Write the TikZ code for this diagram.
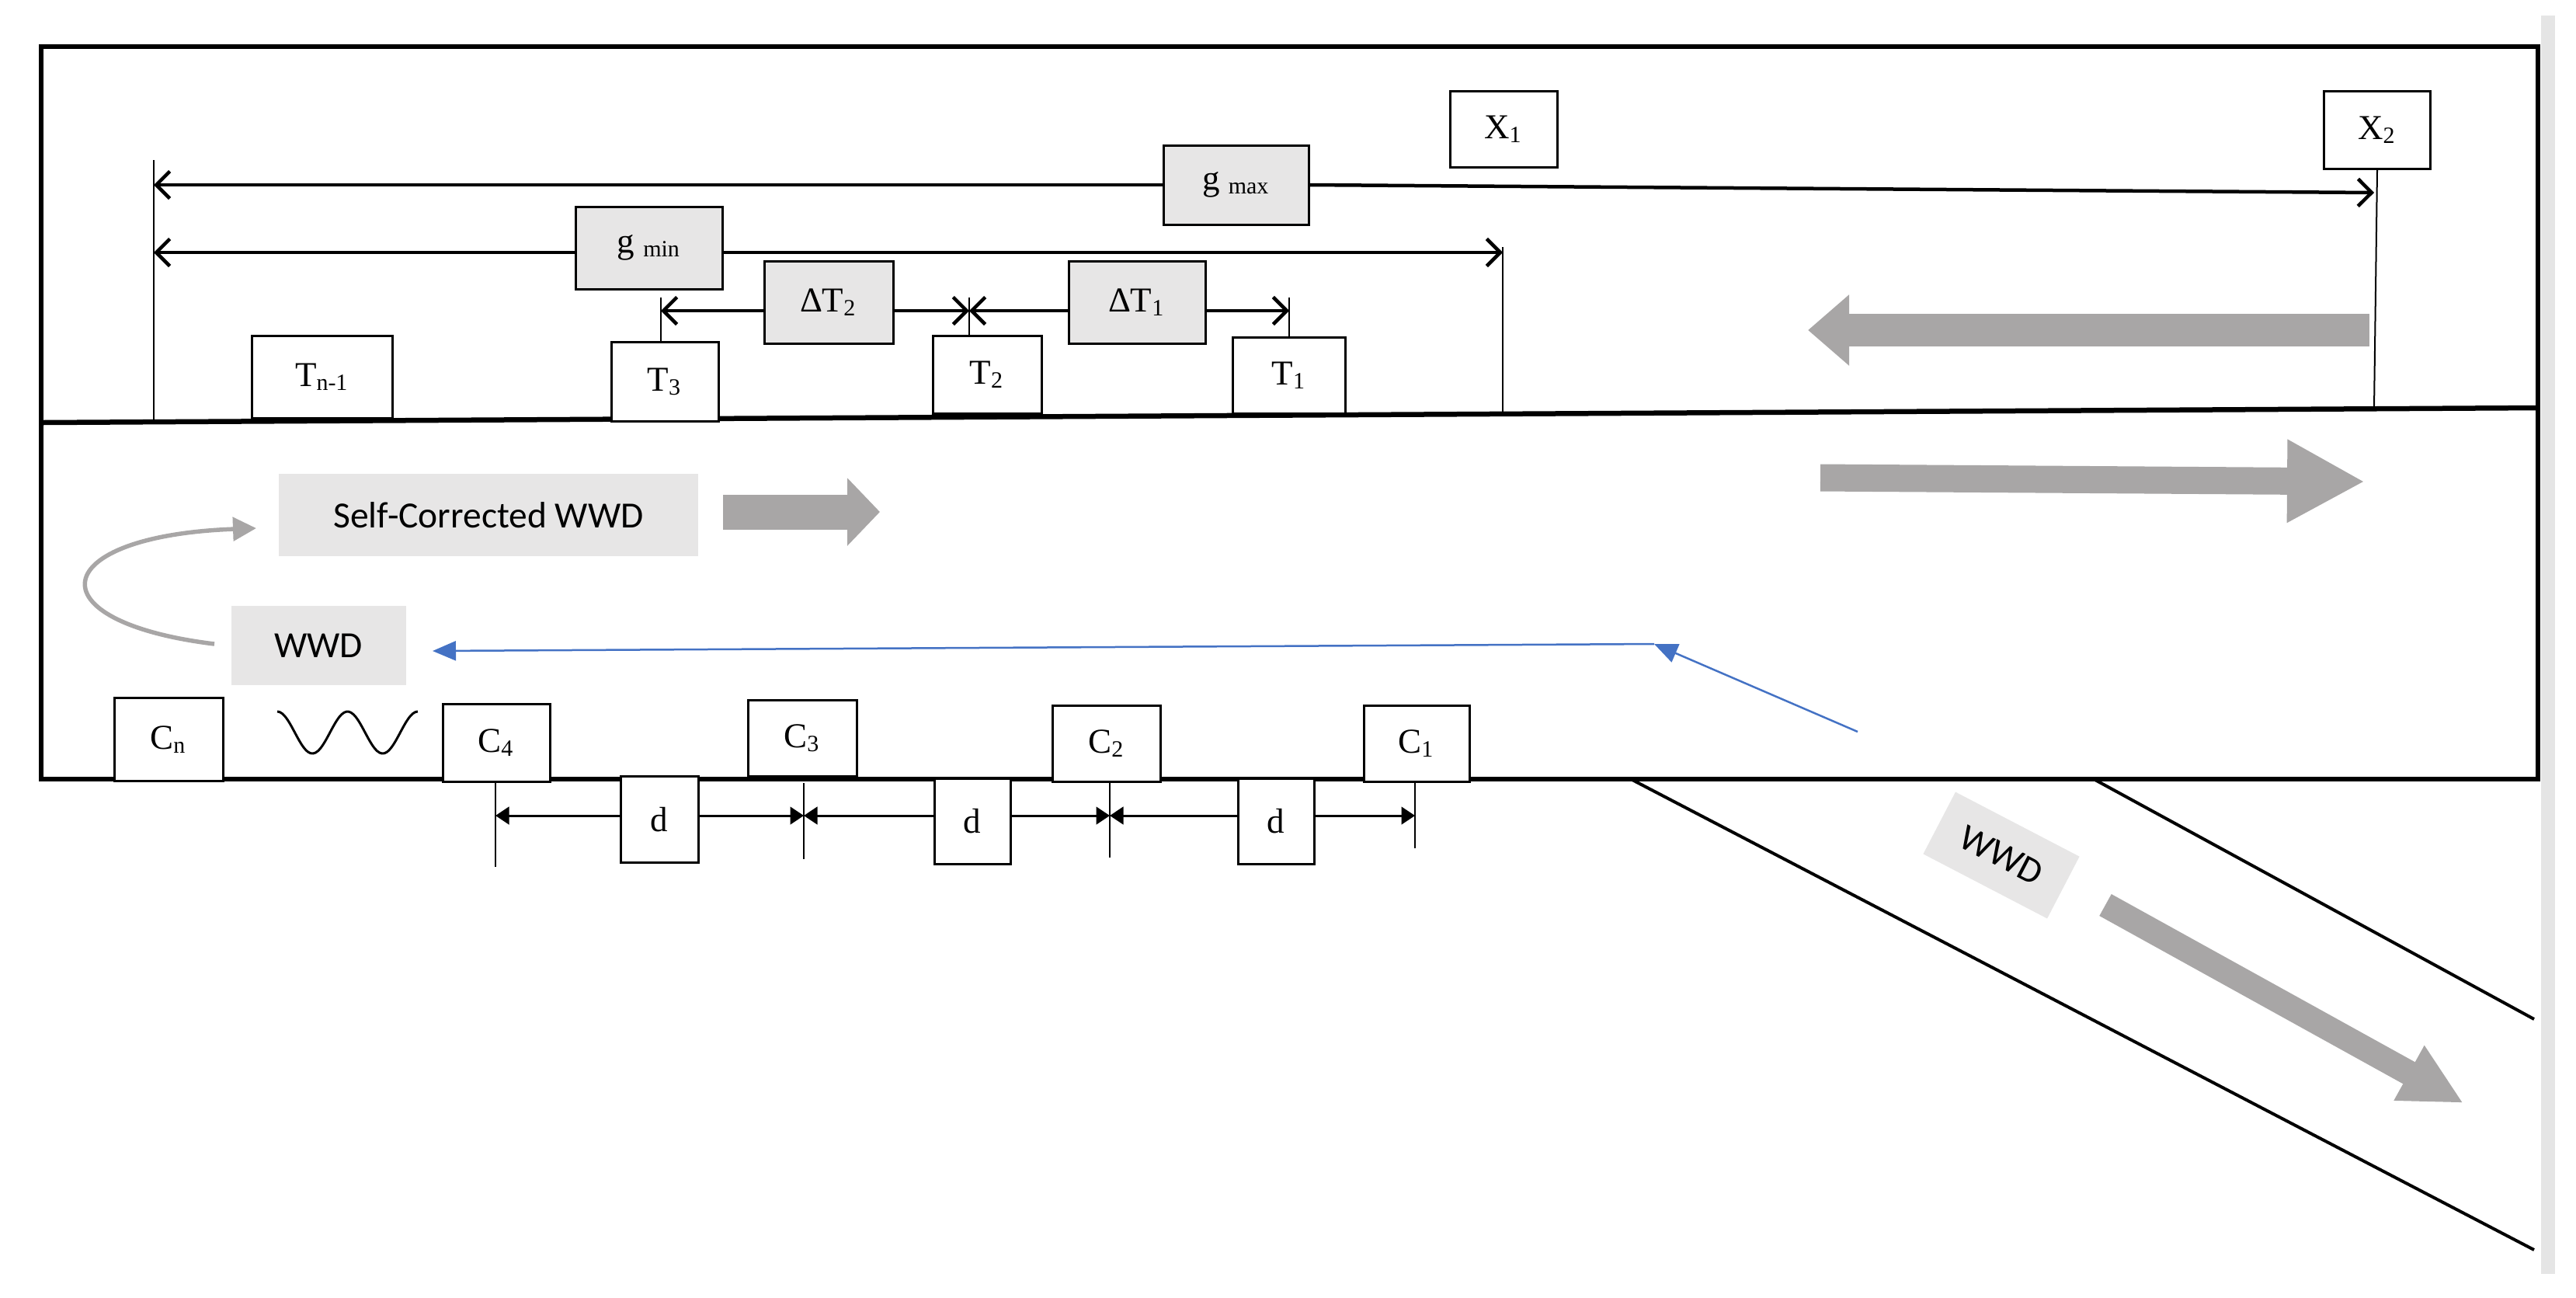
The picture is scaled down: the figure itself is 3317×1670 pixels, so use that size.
\documentclass[tikz,border=0pt]{standalone}
\usepackage{fontspec}
\setmainfont{Liberation Serif}
\newfontfamily\calfont{Carlito}
\usetikzlibrary{arrows.meta}
\definecolor{bgray}{HTML}{A8A6A6}
\definecolor{lgray}{HTML}{E7E6E6}
\definecolor{wblue}{HTML}{4472C4}
\begin{document}
\begin{tikzpicture}[x={(0.2pt,0)},y={(0,-0.2pt)},
  box/.style={draw,line width=0.6pt,inner sep=0pt,fill=white,font=\fontsize{9}{10}\selectfont},
  gbox/.style={box,fill=lgray},
  sbox/.style={fill=lgray,inner sep=0pt,font=\calfont\fontsize{9.5}{11}\selectfont},
  dim/.style={line width=0.9pt,-{Straight Barb[length=3.5pt,width=7pt]}},
  dd/.style={line width=0.6pt,-{Triangle[length=3.5pt,width=4.5pt]}},
  thin/.style={line width=0.4pt}]
\useasboundingbox (0,0) rectangle (3317,1670);
\fill[gray!20] (3272,20) rectangle (3290,1640);
% road
\draw[line width=1.2pt] (53,60) rectangle (3268,1003);
\draw[line width=1.3pt] (53,544) -- (3268,525);
\coordinate (r1a) at (2100,1003); \coordinate (r1b) at (3263,1609);
\coordinate (r2a) at (2696,1003); \coordinate (r2b) at (3263,1312);
\draw[line width=0.8pt] (r1a) -- (r1b);
\draw[line width=0.8pt] (r2a) -- (r2b);
% boxes upper lane
\node[box,minimum width=36.2pt,minimum height=21.2pt] (Tn) at (415,485) {T\textsubscript{n-1}};
\node[box,minimum width=27.6pt,minimum height=20.4pt] (T3) at (856,491) {T\textsubscript{3}};
\node[box,minimum width=28pt,minimum height=20pt] (T2) at (1271,482) {T\textsubscript{2}};
\node[box,minimum width=29pt,minimum height=19.6pt] (T1) at (1660,483) {T\textsubscript{1}};
\node[box,minimum width=27.6pt,minimum height=19.6pt] (X1) at (1936,166) {X\textsubscript{1}};
\node[box,minimum width=27.4pt,minimum height=20pt] (X2) at (3061,167) {X\textsubscript{2}};
\node[gbox,minimum width=37.4pt,minimum height=20.4pt] (gmax) at (1592,238) {g \textsubscript{max}};
\node[gbox,minimum width=37.8pt,minimum height=21.2pt] (gmin) at (836,319) {g \textsubscript{min}};
\node[gbox,minimum width=33.2pt,minimum height=21.2pt] (dT2) at (1067,389) {ΔT\textsubscript{2}};
\node[gbox,minimum width=35.2pt,minimum height=21.2pt] (dT1) at (1464,389) {ΔT\textsubscript{1}};
% dimension ticks
\coordinate (gl0) at (198,206); \coordinate (gl1) at (198,542);
\coordinate (gmaxL) at (198,238); \coordinate (gmaxR) at (3057,248);
\coordinate (gminL) at (198,325); \coordinate (gminR) at (1935,325);
\coordinate (gr0) at (1935,318); \coordinate (gr1) at (1935,532);
\coordinate (x2b) at (3057,525);
\draw[thin] (gl0) -- (gl1);
\draw[thin] (gr0) -- (gr1);
\draw[thin] (X2.south) -- (x2b);
\draw[dim] (gmax.west |- gmaxL) -- (gmaxL);
\draw[dim] (gmax.east) -- (gmaxR);
\draw[dim] (gmin.west |- gminL) -- (gminL);
\draw[dim] (gmin.east |- gminR) -- (gminR);
\coordinate (t3a) at (851,400); \coordinate (t3b) at (851,383);
\coordinate (t2a) at (1248,400); \coordinate (t2b) at (1248,383);
\coordinate (t1a) at (1660,400); \coordinate (t1b) at (1660,383);
\draw[thin] (t3b) -- (851,440);
\draw[thin] (t2b) -- (1248,432);
\draw[thin] (t1b) -- (T1.north);
\draw[dim] (dT2.west |- t3a) -- (t3a);
\draw[dim] (dT2.east |- t2a) -- (t2a);
\draw[dim] (dT1.west |- t2a) -- (t2a);
\draw[dim] (dT1.east |- t1a) -- (t1a);
% gray block arrows
\coordinate (a1s) at (3051,425); \coordinate (a1e) at (2328,425);
\coordinate (a2s) at (2344,615); \coordinate (a2e) at (3045,620);
\coordinate (a3s) at (931,659); \coordinate (a3e) at (1133,659);
\coordinate (a4s) at (2711,1165); \coordinate (a4e) at (3172,1420);
\draw[bgray,line width=8.4pt,-{Triangle[length=10.6pt,width=17.6pt]}] (a1s) -- (a1e);
\draw[bgray,line width=7pt,-{Triangle[length=20pt,width=20pt]}] (a2s) -- (a2e);
\draw[bgray,line width=9pt,-{Triangle[length=8.4pt,width=17pt]}] (a3s) -- (a3e);
\draw[bgray,line width=6.4pt,-{Triangle[length=16pt,width=15pt]}] (a4s) -- (a4e);
% lower lane
\node[sbox,minimum width=108pt,minimum height=21.2pt] (sc) at (629,663) {Self-Corrected WWD};
\node[sbox,minimum width=45pt,minimum height=20.4pt] (wwd) at (410,831) {WWD};
\node[sbox,minimum width=36pt,minimum height=18pt,rotate=-27.5] (wwd2) at (2577,1101) {WWD};
\coordinate (cs) at (276,829);
\coordinate (ce) at (330,680);
\draw[bgray,line width=1.1pt,-{Triangle[length=6pt,width=6pt]}] (cs) .. controls (40,800) and (60,690) .. (ce);
\coordinate (b0) at (2392,942); \coordinate (b1) at (2130,829); \coordinate (b2) at (557,838);
\draw[wblue,line width=0.5pt,-{Triangle[length=6pt,width=5pt]}] (b0) -- (b1);
\draw[wblue,line width=0.5pt,-{Triangle[length=6pt,width=5pt]}] (b1) -- (b2);
% C boxes
\node[box,minimum width=28pt,minimum height=21.4pt] (Cn) at (217,952) {C\textsubscript{n}};
\node[box,minimum width=27.6pt,minimum height=20pt] (C4) at (639,956) {C\textsubscript{4}};
\node[box,minimum width=28pt,minimum height=19.6pt] (C3) at (1033,950) {C\textsubscript{3}};
\node[box,minimum width=27.8pt,minimum height=19.6pt] (C2) at (1425,957) {C\textsubscript{2}};
\node[box,minimum width=27.2pt,minimum height=19.6pt] (C1) at (1824,957) {C\textsubscript{1}};
\draw[line width=0.6pt,domain=0:2,samples=60,smooth] plot ({357+90.5*\x},{943-27*cos(360*\x)});
% d dimensions
\node[box,minimum width=20pt,minimum height=22.2pt] (d1) at (849,1055) {d};
\node[box,minimum width=19.6pt,minimum height=22pt] (d2) at (1252,1057) {d};
\node[box,minimum width=19.6pt,minimum height=22pt] (d3) at (1643,1057) {d};
\coordinate (k4) at (638,1050); \coordinate (k3) at (1035,1050);
\coordinate (k2) at (1429,1050); \coordinate (k1) at (1822,1050);
\draw[thin] (638,1008) -- (638,1116);
\draw[thin] (1035,1008) -- (1035,1106);
\draw[thin] (1429,1008) -- (1429,1104);
\draw[thin] (1822,1008) -- (1822,1092);
\draw[dd] (d1.west |- k4) -- (k4);
\draw[dd] (d1.east |- k3) -- (k3);
\draw[dd] (d2.west |- k3) -- (k3);
\draw[dd] (d2.east |- k2) -- (k2);
\draw[dd] (d3.west |- k2) -- (k2);
\draw[dd] (d3.east |- k1) -- (k1);
\end{tikzpicture}
\end{document}
